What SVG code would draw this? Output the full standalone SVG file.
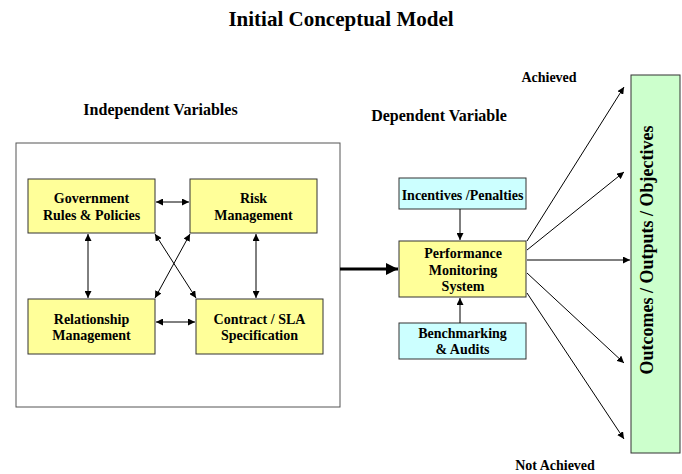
<svg xmlns="http://www.w3.org/2000/svg" width="682" height="474" viewBox="0 0 682 474">
<style>
text{font-family:'Liberation Serif','Times New Roman','DejaVu Serif',serif;font-weight:700;fill:#000;text-anchor:middle}
.t14{font-size:14px}
.yel{fill:#FFFF99;stroke:#333;stroke-width:1}
.cyan{fill:#CCFFFF;stroke:#333;stroke-width:1}
.grn{fill:#CCFFCC;stroke:#333;stroke-width:1}
.ln{stroke:#000;stroke-width:1;fill:none}
</style>
<defs>
<marker id="ah" viewBox="0 0 10 10" refX="10" refY="5" markerWidth="7" markerHeight="7" markerUnits="userSpaceOnUse" orient="auto-start-reverse">
<path d="M0,0 L10,5 L0,10 z" fill="#000"/>
</marker>
<marker id="ahb" viewBox="0 0 10 10" refX="10" refY="5" markerWidth="4" markerHeight="4" orient="auto">
<path d="M0,0 L10,5 L0,10 z" fill="#000"/>
</marker>
</defs>
<rect width="682" height="474" fill="#fff"/>
<text x="341" y="26" style="font-size:21px">Initial Conceptual Model</text>
<text x="160.5" y="115" style="font-size:16px">Independent Variables</text>
<text x="439" y="121" style="font-size:16px">Dependent Variable</text>
<text x="549" y="82" style="font-size:14px">Achieved</text>
<text x="555" y="470" style="font-size:14px">Not Achieved</text>

<g id="independent-box"><rect x="16" y="143" width="324" height="264" fill="#fff" stroke="#555" stroke-width="1"/></g>

<g id="gov"><rect class="yel" x="28" y="179" width="127" height="54"/>
<text class="t14" x="91.5" y="203">Government</text><text class="t14" x="91.5" y="220">Rules &amp; Policies</text></g>
<g id="risk"><rect class="yel" x="190" y="179" width="127" height="54"/>
<text class="t14" x="253.5" y="203">Risk</text><text class="t14" x="253.5" y="220">Management</text></g>
<g id="rel"><rect class="yel" x="28" y="299" width="127" height="55"/>
<text class="t14" x="91.5" y="323.5">Relationship</text><text class="t14" x="91.5" y="340">Management</text></g>
<g id="contract"><rect class="yel" x="196" y="299" width="127" height="55"/>
<text class="t14" x="259.5" y="323.5">Contract / SLA</text><text class="t14" x="259.5" y="340">Specification</text></g>

<g id="incentives"><rect class="cyan" x="399" y="178" width="127" height="31"/>
<text class="t14" x="462.5" y="199.5">Incentives /Penalties</text></g>
<g id="pms"><rect class="yel" x="399" y="241" width="127" height="56"/>
<text class="t14" x="463" y="258">Performance</text><text class="t14" x="463" y="274.5">Monitoring</text><text class="t14" x="463" y="290.5">System</text></g>
<g id="bench"><rect class="cyan" x="399" y="323" width="127" height="36"/>
<text class="t14" x="462.5" y="338">Benchmarking</text><text class="t14" x="462.5" y="354">&amp; Audits</text></g>
<g id="outcomes"><rect class="grn" x="631" y="75" width="49" height="378"/>
<text transform="translate(653,250) rotate(-90)" style="font-size:18px">Outcomes / Outputs / Objectives</text></g>

<g id="connectors">
<line class="ln" x1="156" y1="202" x2="189" y2="202" marker-start="url(#ah)" marker-end="url(#ah)"/>
<line class="ln" x1="156" y1="322" x2="195" y2="322" marker-start="url(#ah)" marker-end="url(#ah)"/>
<line class="ln" x1="88" y1="234" x2="88" y2="298" marker-start="url(#ah)" marker-end="url(#ah)"/>
<line class="ln" x1="256" y1="234" x2="256" y2="298" marker-start="url(#ah)" marker-end="url(#ah)"/>
<line class="ln" x1="155" y1="234" x2="196" y2="298" marker-start="url(#ah)" marker-end="url(#ah)"/>
<line class="ln" x1="190" y1="234" x2="155" y2="298" marker-start="url(#ah)" marker-end="url(#ah)"/>
<line x1="340" y1="269" x2="398" y2="269" stroke="#000" stroke-width="3" marker-end="url(#ahb)"/>
<line class="ln" x1="460" y1="209" x2="460" y2="240" marker-end="url(#ah)"/>
<line class="ln" x1="460" y1="323" x2="460" y2="298" marker-end="url(#ah)"/>
<line class="ln" x1="527" y1="241" x2="624" y2="87" marker-end="url(#ah)"/>
<line class="ln" x1="527" y1="250" x2="624" y2="172" marker-end="url(#ah)"/>
<line class="ln" x1="527" y1="260" x2="630" y2="260" marker-end="url(#ah)"/>
<line class="ln" x1="527" y1="273" x2="624" y2="363" marker-end="url(#ah)"/>
<line class="ln" x1="527" y1="293" x2="624" y2="439" marker-end="url(#ah)"/>
</g>
</svg>
